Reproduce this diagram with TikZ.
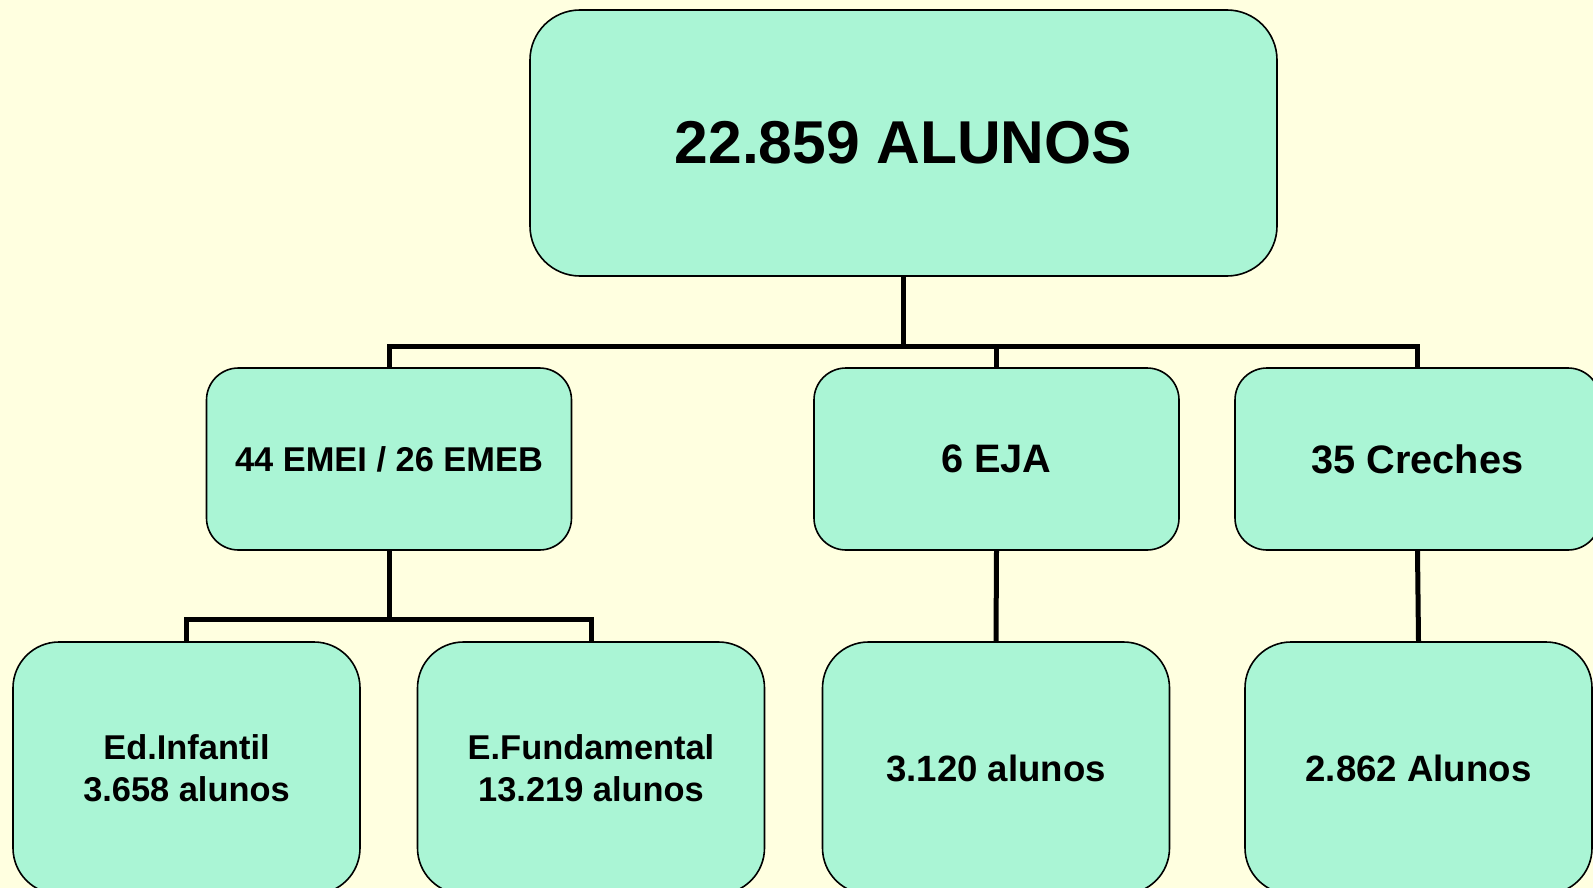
\documentclass[tikz,border=0pt]{standalone}
\usepackage{fontspec}
\setmainfont{Liberation Sans}
\definecolor{paper}{HTML}{FFFFE0}
\definecolor{mint}{HTML}{AAF5D5}
\tikzset{
  box/.style={draw=black, line width=1.6pt, fill=mint, rounded corners=#1, align=center, inner sep=0pt},
  box/.default=32pt,
  midbox/.style={box, minimum width=365pt, minimum height=182pt},
  lowbox/.style={box=46pt, minimum width=347pt, minimum height=252pt},
  link/.style={draw=black, line width=5pt}
}
\begin{document}
\begin{tikzpicture}[x=1pt, y=-1pt]
  \fill[paper] (0,0) rectangle (1593,888);
  \useasboundingbox (0,0) rectangle (1593,888);
  \clip (0,0) rectangle (1593,888);
  % top
  \node[box=50pt, minimum width=747pt, minimum height=266pt, font=\fontsize{60.5}{66}\selectfont\bfseries] (root) at (903.5,143) {22.859 ALUNOS};
  % schools
  \node[midbox, font=\fontsize{34.4}{40}\selectfont\bfseries] (emei) at (389,459) {44 EMEI / 26 EMEB};
  \node[midbox, font=\fontsize{39.7}{44}\selectfont\bfseries] (eja) at (996.5,459) {6 EJA};
  \node[midbox, font=\fontsize{39.7}{44}\selectfont\bfseries] (creche) at (1417.5,459) {35 Creches};
  % pupils
  \node[lowbox, font=\fontsize{34.4}{42}\selectfont\bfseries] (infantil) at (186.5,768) {Ed.Infantil\\3.658 alunos};
  \node[lowbox, font=\fontsize{34.4}{42}\selectfont\bfseries] (fundamental) at (591,768) {E.Fundamental\\13.219 alunos};
  \node[lowbox, font=\fontsize{36.6}{42}\selectfont\bfseries] (ejaalunos) at (996,768) {3.120 alunos};
  \node[lowbox, font=\fontsize{36.6}{42}\selectfont\bfseries] (crechealunos) at (1418.5,768) {2.862 Alunos};
  % links
  \coordinate (bar) at (903.5,346);
  \coordinate (subbar) at (389,619);
  \draw[link] (root.south) -- (bar);
  \draw[link] (emei.north) |- (bar) -| (creche.north);
  \draw[link] (eja.north) -- (eja.north |- bar);
  \draw[link] (emei.south) -- (subbar);
  \draw[link] (infantil.north) |- (subbar) -| (fundamental.north);
  \draw[link] (eja.south) -- (ejaalunos.north);
  \draw[link] (creche.south) -- (crechealunos.north);
\end{tikzpicture}
\end{document}
